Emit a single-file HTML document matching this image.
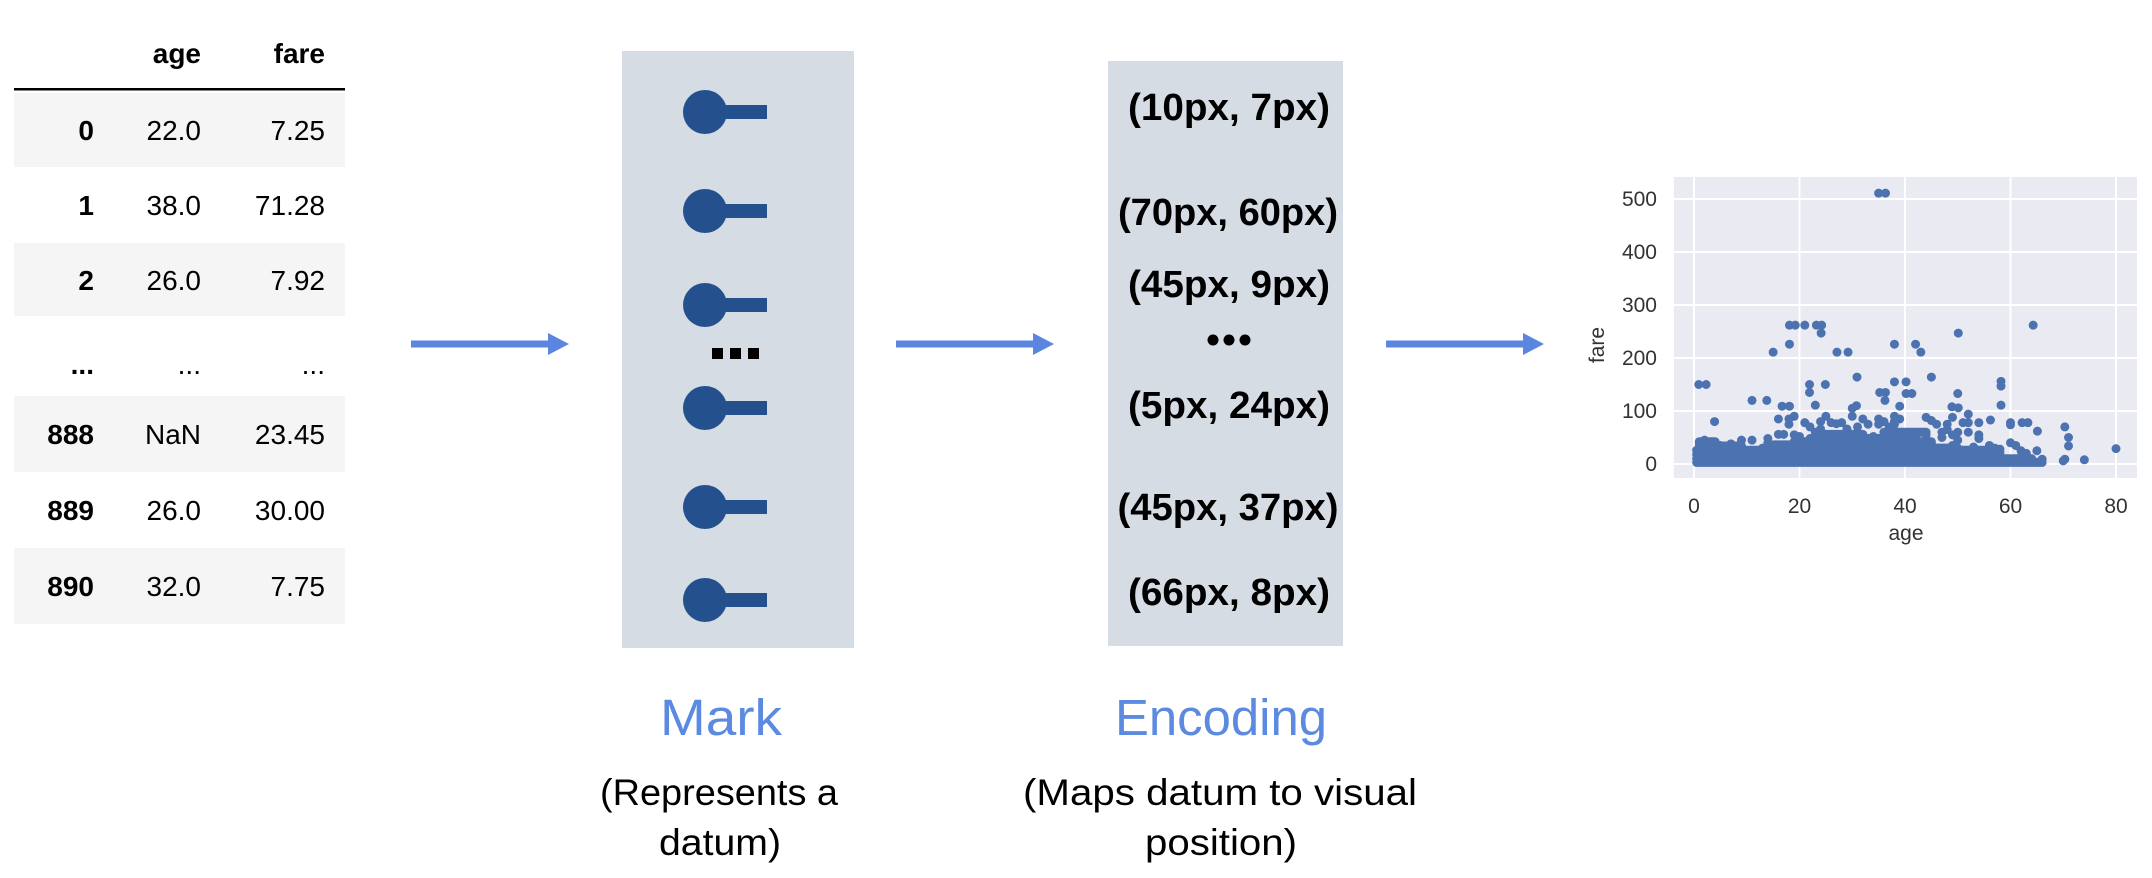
<!DOCTYPE html>
<html><head><meta charset="utf-8"><style>
html,body{margin:0;padding:0;background:#fff;}
svg{display:block;}
</style></head><body>
<svg width="2152" height="878" viewBox="0 0 2152 878" xmlns="http://www.w3.org/2000/svg">
<!-- Table -->
<g font-family="Liberation Sans, Arial, sans-serif" font-size="28" fill="#000">
<rect x="14" y="93" width="331" height="74" fill="#f5f5f5"/>
<rect x="14" y="243" width="331" height="73" fill="#f5f5f5"/>
<rect x="14" y="396" width="331" height="76" fill="#f5f5f5"/>
<rect x="14" y="548" width="331" height="76" fill="#f5f5f5"/>
<rect x="14" y="88" width="331" height="2.5" fill="#000"/>
<g font-weight="bold" text-anchor="end">
<text x="201" y="63">age</text><text x="325" y="63">fare</text>
<text x="94" y="140">0</text><text x="94" y="215">1</text><text x="94" y="290">2</text>
<text x="94" y="374">...</text>
<text x="94" y="444">888</text><text x="94" y="520">889</text><text x="94" y="596">890</text>
</g>
<g text-anchor="end">
<text x="201" y="140">22.0</text><text x="325" y="140">7.25</text>
<text x="201" y="215">38.0</text><text x="325" y="215">71.28</text>
<text x="201" y="290">26.0</text><text x="325" y="290">7.92</text>
<text x="201" y="374">...</text><text x="325" y="374">...</text>
<text x="201" y="444">NaN</text><text x="325" y="444">23.45</text>
<text x="201" y="520">26.0</text><text x="325" y="520">30.00</text>
<text x="201" y="596">32.0</text><text x="325" y="596">7.75</text>
</g>
</g>

<!-- Arrows -->
<g fill="#5b86e0">
<rect x="411" y="340.5" width="140" height="7"/><polygon points="548,333 569,344 548,355"/>
<rect x="896" y="340.5" width="140" height="7"/><polygon points="1033,333 1054,344 1033,355"/>
<rect x="1386" y="340.5" width="140" height="7"/><polygon points="1523,333 1544,344 1523,355"/>
</g>

<!-- Mark box -->
<rect x="622" y="51" width="232" height="597" fill="#d6dce4"/>
<g fill="#24518e">
<circle cx="705" cy="112" r="22"/><rect x="715" y="105" width="52" height="14"/>
<circle cx="705" cy="211" r="22"/><rect x="715" y="204" width="52" height="14"/>
<circle cx="705" cy="305" r="22"/><rect x="715" y="298" width="52" height="14"/>
<circle cx="705" cy="408" r="22"/><rect x="715" y="401" width="52" height="14"/>
<circle cx="705" cy="507" r="22"/><rect x="715" y="500" width="52" height="14"/>
<circle cx="705" cy="600" r="22"/><rect x="715" y="593" width="52" height="14"/>
</g>
<g fill="#000">
<rect x="712" y="348" width="11" height="11"/><rect x="730" y="348" width="11" height="11"/><rect x="748" y="348" width="11" height="11"/>
</g>

<!-- Encoding box -->
<rect x="1108" y="61" width="235" height="585" fill="#d6dce4"/>
<g font-family="Liberation Sans Narrow, Liberation Sans, Arial, sans-serif" font-weight="bold" font-size="38" fill="#000" text-anchor="middle">
<text x="1229" y="120" textLength="202" lengthAdjust="spacingAndGlyphs">(10px, 7px)</text>
<text x="1228" y="225" textLength="220" lengthAdjust="spacingAndGlyphs">(70px, 60px)</text>
<text x="1229" y="297" textLength="202" lengthAdjust="spacingAndGlyphs">(45px, 9px)</text>
<text x="1229" y="418" textLength="202" lengthAdjust="spacingAndGlyphs">(5px, 24px)</text>
<text x="1228" y="520" textLength="221" lengthAdjust="spacingAndGlyphs">(45px, 37px)</text>
<text x="1229" y="605" textLength="202" lengthAdjust="spacingAndGlyphs">(66px, 8px)</text>
</g>
<g fill="#000"><circle cx="1213" cy="340" r="5.5"/><circle cx="1229" cy="340" r="5.5"/><circle cx="1245" cy="340" r="5.5"/></g>

<!-- Labels -->
<g font-family="Liberation Sans, Arial, sans-serif" text-anchor="middle">
<text x="721" y="735" font-size="51" fill="#5b8ae0" textLength="122" lengthAdjust="spacingAndGlyphs">Mark</text>
<text x="1221" y="735" font-size="51" fill="#5b8ae0" textLength="212" lengthAdjust="spacingAndGlyphs">Encoding</text>
<g font-size="37" fill="#000">
<text x="719" y="805" textLength="238" lengthAdjust="spacingAndGlyphs">(Represents a</text>
<text x="720" y="855" textLength="122" lengthAdjust="spacingAndGlyphs">datum)</text>
<text x="1220" y="805" textLength="394" lengthAdjust="spacingAndGlyphs">(Maps datum to visual</text>
<text x="1221" y="855" textLength="152" lengthAdjust="spacingAndGlyphs">position)</text>
</g>
</g>

<!-- Scatter plot -->
<rect x="1674" y="177" width="463" height="301" fill="#eaeaf2"/>
<g stroke="#fff" stroke-width="2">
<line x1="1694" y1="177" x2="1694" y2="478"/><line x1="1799.5" y1="177" x2="1799.5" y2="478"/>
<line x1="1905" y1="177" x2="1905" y2="478"/><line x1="2010.5" y1="177" x2="2010.5" y2="478"/>
<line x1="2116" y1="177" x2="2116" y2="478"/>
<line x1="1674" y1="464" x2="2137" y2="464"/><line x1="1674" y1="411" x2="2137" y2="411"/>
<line x1="1674" y1="358" x2="2137" y2="358"/><line x1="1674" y1="305" x2="2137" y2="305"/>
<line x1="1674" y1="252" x2="2137" y2="252"/><line x1="1674" y1="199" x2="2137" y2="199"/>
</g>
<g transform="translate(1694,464) scale(5.275,-0.53)">
<path fill="none" stroke="#4c72b0" stroke-width="9" stroke-linecap="round" stroke-linejoin="round" vector-effect="non-scaling-stroke"
d="M0.5 3H66M0.5 10H64M0.5 18H58M0.5 26H55M1 34H9M13 30H50M1 42H4M19 42H45M15 36H20M22 48H40M24 56H32M36 60H44
M35 511h0M36.3 511h0M18.1 262h0M19.2 262h0M21 262h0M23.2 262h0M24.2 262h0M24.1 247h0M18.1 226h0M15 211h0M27.1 211h0M29.2 211h0M64.3 262h0M50.1 247h0M38 226h0M42 226h0M43 211h0M30.9 164h0M45 164h0M0.9 150h0M2.3 150h0M21.9 150h0M24.9 150h0M21.9 135h0M35.2 135h0M36.3 135h0M38 155h0M40.2 155h0M40.2 133h0M41.3 133h0M36.2 120h0M50 133h0M58.2 156h0M58.2 147h0M58.2 111h0M11 120h0M13.8 120h0M16.7 109h0M18.1 109h0M23 111h0M30.8 110h0M39 109h0M48.9 108h0M50.1 106h0M3.9 80h0M52 94h0M56.2 83h0M60 78h0M60 74h0M62.2 78h0M63.3 78h0M65.1 62h0M70.3 70h0M71 50h0M71 34h0M74 8h0M70.3 9h0M80 29h0M64 9h0M66 9h0M70 6h0
M1 40h0M2 45h0M3 38h0M5 35h0M7 38h0M9 45h0M11 45h0M14 48h0M14 40h0M16 56h0M16 85h0M17 56h0M18 75h0M18 85h0M19 55h0M19 90h0M20 52h0M21 78h0M21 40h0M22 70h0M23 60h0M23 50h0M24 80h0M24 66h0M25 90h0M25 55h0M26 78h0M27 76h0M27 52h0M28 78h0M29 56h0M29 66h0M30 90h0M30 105h0M31 55h0M31 70h0M32 85h0M32 50h0M33 75h0M34 52h0M35 85h0M35 75h0M36 80h0M36 55h0M37 70h0M38 90h0M38 80h0M38 75h0M39 55h0M39 85h0M40 40h0M41 45h0M42 50h0M42 35h0M44 88h0M44 55h0M45 82h0M45 40h0M46 75h0M47 60h0M47 50h0M48 75h0M48 65h0M49 55h0M49 88h0M50 60h0M50 45h0M51 78h0M52 78h0M52 60h0M54 78h0M54 55h0M54 48h0M56 35h0M58 28h0M60 40h0M61 35h0M62 25h0M63 20h0M65 25h0M45 30h0M35 30h0M25 35h0M20 35h0M28 40h0M33 38h0M37 42h0M43 30h0M49 35h0M53 32h0M57 30h0M56 12h0M60 5h0M62 14h0M58 22h0"/>
</g>
<g font-family="Liberation Sans, Arial, sans-serif" font-size="21" fill="#333">
<g text-anchor="end">
<text x="1657" y="206">500</text><text x="1657" y="259">400</text><text x="1657" y="312">300</text>
<text x="1657" y="365">200</text><text x="1657" y="418">100</text><text x="1657" y="471">0</text>
</g>
<g text-anchor="middle">
<text x="1694" y="513">0</text><text x="1799.5" y="513">20</text><text x="1905" y="513">40</text>
<text x="2010.5" y="513">60</text><text x="2116" y="513">80</text>
<text x="1906" y="540">age</text>
<text transform="translate(1604,345) rotate(-90)">fare</text>
</g>
</g>
</svg>
</body></html>
